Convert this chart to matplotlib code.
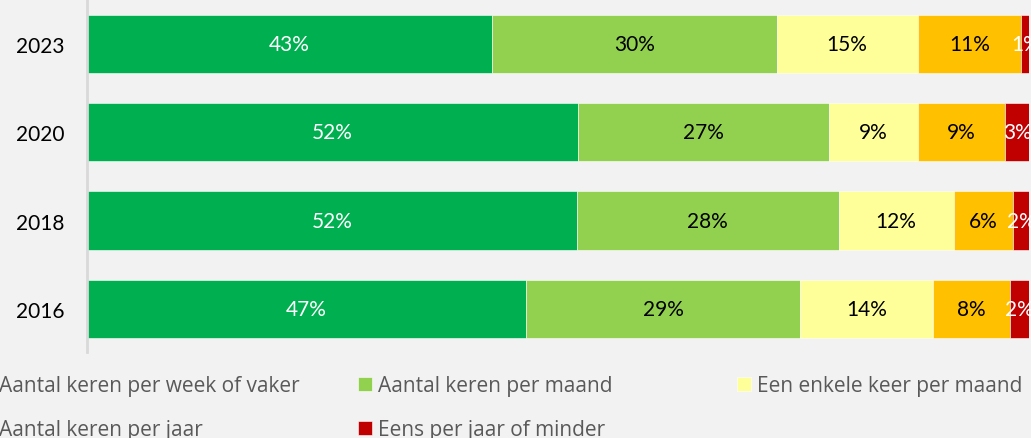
import matplotlib
matplotlib.use("Agg")
import matplotlib.pyplot as plt
import numpy as np

plt.rcParams['font.family'] = ['Lato', 'DejaVu Sans']

years = ['2016', '2018', '2020', '2023']
categories = ['Aantal keren per week of vaker', 'Aantal keren per maand',
              'Een enkele keer per maand', 'Aantal keren per jaar',
              'Eens per jaar of minder']
# values per category, order follows years (2016, 2018, 2020, 2023)
week = [46.6, 52.0, 52.1, 43.0]
maand = [29.1, 27.8, 26.7, 30.2]
enkele = [14.1, 12.2, 9.4, 15.0]
jaar = [8.2, 6.3, 9.3, 11.0]
minder = [2.0, 1.9, 2.6, 1.1]

series = [week, maand, enkele, jaar, minder]
colors = ['#00B050', '#92D050', '#FFFF99', '#FFC000', '#C00000']
label_colors = ['white', 'black', 'black', 'black', 'white']

bg = '#F2F2F2'
W, H = 1031, 439
fig = plt.figure(figsize=(W / 100, H / 100), dpi=100, facecolor=bg)
ax = fig.add_axes([87 / W, 1 - 353 / H, (1029 - 87) / W, 353 / H])
ax.set_facecolor(bg)

y = np.arange(len(years))
left = np.zeros(len(years))
handles = []
for vals, name, col, tcol in zip(series, categories, colors, label_colors):
    bars = ax.barh(y, vals, left=left, height=0.66, color=col,
                   edgecolor='white', linewidth=0.4, label=name)
    ax.bar_label(bars, labels=['%d%%' % round(v) for v in vals],
                 label_type='center', color=tcol, fontsize=15)
    handles.append(bars)
    left += np.array(vals)

ax.set_xlim(0, 100)
ax.set_ylim(-0.49, 3.51)
ax.set_yticks(y)
ax.set_yticklabels(years, fontsize=15, color='black')
ax.tick_params(axis='y', length=0, pad=16)
ax.set_xticks([])
for s in ['top', 'right', 'bottom']:
    ax.spines[s].set_visible(False)
ax.spines['left'].set_color('#D9D9D9')
ax.spines['left'].set_linewidth(2)

# legend: three columns at fixed positions (like the original), rows read left to right
columns = [[0, 3], [1, 4], [2]]
col_x = [-21, 358, 737]
for idx, cx in zip(columns, col_x):
    fig.legend([handles[i] for i in idx], [categories[i] for i in idx],
               loc='upper left', bbox_to_anchor=(cx / W, 1 - 376 / H),
               frameon=False, prop={'family': 'Open Sans', 'size': 15},
               labelcolor='#595959', handlelength=0.67, handleheight=0.67,
               handletextpad=0.29, labelspacing=1.1, borderpad=0,
               borderaxespad=0)

fig.savefig('out.png', dpi=100, facecolor=bg)
